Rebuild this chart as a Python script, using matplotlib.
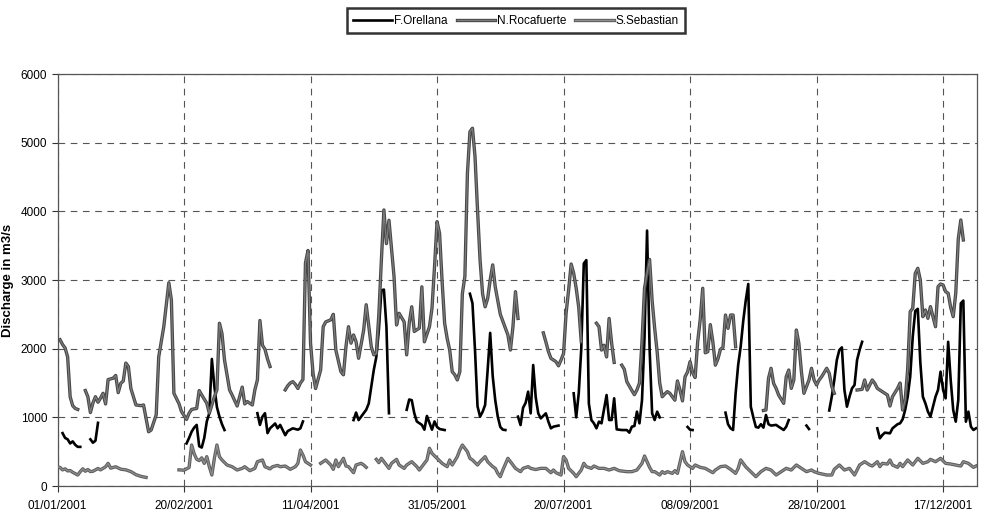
import numpy as np
import matplotlib
matplotlib.use("Agg")
import matplotlib.pyplot as plt
import matplotlib.dates as mdates
import matplotlib.patheffects as pe
from datetime import datetime

plt.rcParams['font.family'] = ['Liberation Sans', 'DejaVu Sans']

nan = np.nan

# day of year 2001 (0 = 01/01/2001), discharge in m3/s; nan = missing data
orellana_day = [2, 3, 4, 5, 6, 7, 8, 9, 11,
                13, 14, 15, 16, 30,
                51, 52, 53, 54, 55, 56, 57, 58, 59, 60, 61, 62, 63, 64, 65, 66, 72,
                79, 80, 81, 82, 83, 84, 86, 87, 88, 90, 91, 93, 95, 96, 97, 105,
                117, 118, 119, 121, 122, 123, 124, 125, 126, 127, 128, 129, 130, 131, 134,
                138, 139, 140, 141, 142, 144, 145, 146, 147, 148, 149, 150, 151, 153, 158,
                163, 164, 165, 166, 167, 168, 169, 170, 171, 172, 173, 174, 175, 176, 177, 179.5,
                182, 183, 184, 185, 186, 187, 188, 189, 190, 191, 193, 194, 195, 196, 198, 201,
                204, 205, 206, 207, 208, 209, 210, 211, 212, 213, 214, 215,
                217, 218, 219, 220, 221, 223,
                225, 226, 227, 228, 229, 230, 231, 232, 233, 234, 235, 236, 237, 238, 244,
                249, 250, 251, 257,
                264, 265, 266, 267, 268, 269, 270, 271, 272, 273, 274, 275, 276, 277, 278,
                279, 280, 281, 282, 284, 285, 287, 288, 289, 292,
                296, 297, 300,
                305, 306, 307, 308, 309, 310, 311, 312, 313, 314, 315, 316, 317, 318, 321,
                324, 325, 326, 327, 329, 330,
                332, 333, 334, 335, 336, 337, 338, 339, 340, 341,
                342, 343, 344, 345, 346, 347, 348, 349, 350, 351,
                352, 353, 354, 355, 356, 357, 358, 359, 360, 361,
                362, 363]
orellana_q = [770, 700, 680, 620, 650, 600, 570, 570, nan,
              680, 630, 660, 920, nan,
              620, 700, 790, 850, 890, 580, 560, 700, 940, 1060, 1850, 1450, 1150, 1010, 900, 815, nan,
              1060, 890, 1010, 1060, 770, 840, 910, 840, 890, 740, 800, 840, 820, 840, 940, nan,
              960, 1070, 960, 1060, 1110, 1200, 1450, 1690, 1880, 2270, 2850, 2860, 2320, 1060, nan,
              1110, 1260, 1250, 1060, 940, 890, 820, 1020, 920, 820, 940, 860, 830, 815, nan,
              2800, 2660, 1980, 1160, 1010, 1080, 1180, 1690, 2230, 1600, 1250, 1010, 860, 820, 815, nan,
              1010, 888, 1140, 1210, 1374, 1058, 1762, 1290, 1058, 985, 1058, 937, 840, 864, 880, nan,
              1350, 1000, 1350, 2000, 3240, 3290, 1200, 960, 913, 840, 937, 913,
              1325, 961, 961, 1277, 825, 815,
              815, 777, 864, 874, 1083, 913, 1250, 2175, 3720, 2000, 1058, 961, 1083, 1000, nan,
              860, 820, 815, nan,
              1068, 900, 840, 816, 1350, 1760, 2030, 2400, 2700, 2942, 1155, 1000, 860, 850, 900,
              850, 1034, 900, 880, 890, 864, 816, 864, 961, nan,
              880, 830, nan,
              1100, 1300, 1544, 1835, 1981, 2019, 1400, 1155, 1300, 1422, 1471, 1835, 1981, 2100, nan,
              840, 694, 743, 777, 767, 840,
              900, 913, 971, 1107, 1300, 1592, 2175, 2550, 2580, 1800,
              1300, 1204, 1083, 1010, 1155, 1300, 1400, 1665, 1400, 1277,
              2100, 1544, 1107, 937, 1252, 2660, 2700, 937, 1083, 864,
              816, 840]

rocafuerte_day = [1, 2, 3, 4, 5, 6, 7, 8, 9.5,
                  11, 12, 13, 14, 15, 16, 17, 18, 19, 20,
                  22, 23, 24, 25, 26, 27, 28, 29, 31, 33, 34,
                  36, 37, 39, 40, 42, 44, 45, 46, 48, 49,
                  51, 52, 53, 55, 56, 57, 59, 60, 62, 63, 64, 65, 66,
                  68, 69, 71, 72, 73, 74, 75, 77, 78, 79, 80, 81, 82, 83, 84, 87,
                  90, 91, 92, 93, 94, 95, 96, 97, 98, 99, 100, 101, 102,
                  104, 105, 106, 108, 109, 110, 112, 113, 114, 115, 116, 117, 118, 119,
                  121, 122, 124, 125, 126, 127, 128, 129, 130, 131, 133, 134, 135,
                  137, 138, 139, 140, 141, 143, 144, 145,
                  147, 148, 149, 150, 151, 152, 153, 154, 155, 156, 157, 158, 159, 160,
                  161, 162, 163, 164, 165, 166, 167, 168, 169, 170, 171, 172, 173, 174,
                  175, 176, 177, 178, 179, 180, 181, 182, 187,
                  192, 193, 194, 195, 197, 198, 199, 200, 201, 202, 203, 204, 205, 206, 207, 210,
                  213, 214, 215, 216, 217, 218, 219, 220, 221.5,
                  223, 224, 225, 227, 228, 229, 230, 231, 232, 233, 234, 235, 236, 237, 238,
                  239, 240, 241, 242, 243, 244, 245, 246, 247, 248, 249, 250, 251, 252, 253,
                  254, 255, 256, 257, 258, 259, 260, 261, 262, 263, 264, 265, 266, 267, 268, 273,
                  279, 280, 281, 282, 283, 284, 285, 287, 288, 289, 290, 291, 292, 293, 294, 295,
                  297, 298, 299, 300, 301, 302, 304, 305, 306, 307, 311,
                  316, 318, 319, 320, 322, 323, 324, 326, 328, 329, 330,
                  332, 333, 334, 335, 336, 337, 338, 339, 340, 341, 342, 343, 344, 345,
                  346, 347, 348, 349, 350, 351, 352, 353, 354, 355, 356, 357, 358]
rocafuerte_q = [2130, 2060, 2010, 1880, 1300, 1170, 1130, 1115, nan,
                1390, 1300, 1070, 1210, 1300, 1220, 1280, 1350, 1195, 1550,
                1570, 1610, 1360, 1495, 1530, 1790, 1740, 1420, 1180, 1170, 1180,
                790, 815, 1035, 1880, 2320, 2960, 2710, 1350, 1200, 1085,
                970, 1060, 1115, 1130, 1390, 1325, 1205, 1060, 1300, 1400, 2370, 2220, 1835,
                1400, 1325, 1165, 1300, 1440, 1195, 1230, 1180, 1400, 1545, 2410, 2050, 1990, 1850, 1740, nan,
                1400, 1460, 1500, 1520, 1480, 1420, 1500, 1550, 3250, 3430, 2080, 1640, 1420,
                1690, 2320, 2390, 2420, 2500, 1980, 1665, 1620, 2030, 2320, 2080, 2200, 2100, 1860,
                2270, 2640, 2030, 1910, 1930, 2500, 3290, 4020, 3530, 3870, 3050, 2345, 2515,
                2390, 1910, 2370, 2610, 2250, 2300, 2900, 2100,
                2320, 2590, 3190, 3850, 3680, 2980, 2370, 2150, 1980, 1665, 1620, 1545, 1665, 2800,
                3050, 4550, 5160, 5210, 4800, 4020, 3290, 2800, 2610, 2730, 3000, 3220, 2900, 2700,
                2500, 2400, 2300, 2200, 1980, 2320, 2830, 2440, nan,
                2230, 2100, 1960, 1860, 1810, 1750, 1835, 1930, 2515, 2854, 3233, 3097, 2879, 2600, 2100, nan,
                2370, 2320, 1980, 2050, 1880, 2440, 2080, 1800, nan,
                1760, 1700, 1520, 1390, 1330, 1400, 1500, 2100, 2880, 3100, 3300, 2700, 2300, 1950, 1500,
                1300, 1340, 1374, 1350, 1300, 1250, 1530, 1400, 1240, 1590, 1660, 1811, 1650, 1580, 2100,
                2420, 2879, 1940, 1956, 2350, 2100, 1760, 1850, 1990, 2019, 2490, 2296, 2490, 2490, 2029, nan,
                1100, 1107, 1568, 1714, 1495, 1422, 1325, 1204, 1592, 1689, 1422, 1544, 2272, 2078, 1665, 1350,
                1544, 1714, 1544, 1471, 1544, 1592, 1714, 1641, 1450, 1350, nan,
                1398, 1408, 1544, 1398, 1544, 1495, 1422, 1374, 1325, 1165, 1301,
                1422, 1500, 1107, 1252, 1700, 2540, 2587, 3097, 3170, 3000, 2466, 2563, 2442, 2612,
                2466, 2320, 2903, 2942, 2927, 2830, 2806, 2600, 2466, 2806, 3600, 3874, 3583]

sebastian_day = [0, 1, 2, 3, 4, 5, 6, 8, 9, 10, 11, 12, 13, 14, 16, 17, 19, 20, 21,
                 23, 25, 27, 29, 31, 33, 35, 42,
                 48, 50, 52, 53, 54, 55, 56, 57, 58, 59, 60, 61, 62, 63, 64, 65,
                 67, 69, 71, 73, 74, 76, 78, 79, 81, 82, 84, 85, 87, 88, 90, 92, 94, 95,
                 96, 97, 98, 99, 100, 102,
                 104, 105, 106, 108, 109, 110, 111, 113, 114, 115, 117, 118, 120, 121, 122, 124,
                 126, 127, 128, 130, 131, 132, 134, 135, 137, 138,
                 140, 142, 143, 145, 146, 147, 148, 150, 152, 154,
                 155, 156, 158, 159, 160, 162, 163, 164, 166, 167,
                 169, 170, 172, 173, 174, 175, 176, 178, 180, 181,
                 183, 184, 186, 187, 189, 191, 193, 195, 196, 197,
                 199, 200, 201, 202, 204, 205, 207, 208, 209, 211,
                 212, 214, 216, 218, 220, 222, 225, 227, 229, 231,
                 232, 234, 235, 236, 238, 239, 240, 241, 243, 244,
                 245, 247, 248, 249, 251, 252, 254, 256, 259, 260,
                 262, 264, 266, 268, 269, 270, 272, 274, 276, 278,
                 280, 282, 284, 286, 288, 290, 292, 294, 296, 298,
                 299, 301, 304, 306, 307, 309, 311, 313, 315, 317,
                 319, 321, 322, 324, 325, 326, 328, 329, 330, 332,
                 333, 334, 336, 338, 339, 340, 342, 344, 345, 347,
                 349, 351, 353, 355, 357, 358, 360, 362, 363]
sebastian_q = [280, 270, 235, 250, 220, 225, 200, 160, 210, 250, 215, 240, 210, 215, 255, 235, 280, 330, 260,
               280, 245, 235, 210, 165, 140, 125, nan,
               235, 230, 270, 597, 470, 390, 370, 410, 330, 427, 281, 160, 403, 597, 427, 379,
               306, 281, 233, 257, 281, 223, 257, 354, 379, 281, 250, 281, 300, 281, 291, 243, 281, 330,
               524, 451, 354, 330, 306, nan,
               330, 354, 379, 306, 243, 379, 282, 403, 291, 282, 194, 306, 330, 306, 272, nan,
               388, 340, 403, 306, 257, 330, 388, 306, 257, 306,
               354, 282, 233, 330, 379, 549, 476, 403, 330, 282,
               379, 306, 427, 524, 597, 500, 403, 379, 306, 354,
               427, 354, 282, 257, 184, 136, 233, 403, 306, 257,
               209, 257, 282, 257, 240, 257, 257, 194, 233, 194,
               160, 427, 379, 257, 184, 136, 233, 330, 282, 257,
               291, 257, 257, 233, 257, 223, 209, 209, 233, 330,
               437, 272, 209, 209, 160, 209, 184, 209, 184, 223,
               184, 500, 354, 306, 257, 306, 272, 257, 194, 233,
               282, 291, 243, 184, 257, 380, 280, 209, 136, 209,
               257, 233, 160, 209, 257, 233, 306, 257, 209, 233,
               209, 184, 160, 160, 243, 306, 233, 257, 160, 306,
               354, 306, 291, 354, 282, 330, 320, 379, 306, 272,
               330, 282, 379, 306, 354, 403, 330, 354, 388, 354,
               403, 330, 320, 306, 291, 354, 330, 272, 291]

tick_days = [0, 50, 100, 150, 200, 250, 300, 350]

start = mdates.date2num(datetime(2001, 1, 1))

fig = plt.figure(figsize=(9.83, 5.15), dpi=100)
ax = fig.add_axes([0.0585, 0.0563, 0.9354, 0.8])

ax.plot(start + np.array(orellana_day), orellana_q, color='black', lw=1.9,
        label='F.Orellana', zorder=3)
ax.plot(start + np.array(rocafuerte_day), rocafuerte_q, color='#7c7c7c', lw=0.9,
        label='N.Rocafuerte', zorder=4,
        path_effects=[pe.Stroke(linewidth=2.4, foreground='#474747'), pe.Normal()])
ax.plot(start + np.array(sebastian_day), sebastian_q, color='#8e8e8e', lw=0.9,
        label='S.Sebastian', zorder=5,
        path_effects=[pe.Stroke(linewidth=2.4, foreground='#5e5e5e'), pe.Normal()])

ax.set_xlim(start, start + 363.4)
ax.set_ylim(0, 6000)
ax.set_yticks(range(0, 6001, 1000))
ax.set_xticks([start + d for d in tick_days])
ax.xaxis.set_major_formatter(mdates.DateFormatter('%d/%m/%Y'))

ax.grid(True, color='#555555', lw=0.8, linestyle=(0, (6, 5)))
ax.set_axisbelow(True)
for s in ax.spines.values():
    s.set_color('#555555')
    s.set_linewidth(0.9)
ax.tick_params(axis='both', labelsize=8.5, color='#333333', length=4, width=0.8)
ax.tick_params(axis='x', pad=6)
ax.set_ylabel('Discharge in m3/s', fontsize=9.5, fontweight='bold')
ax.yaxis.set_label_coords(-0.047, 0.5)

leg = fig.legend(loc='upper center', bbox_to_anchor=(0.525, 0.995), ncol=3,
                 fontsize=8.5, frameon=True, fancybox=False, edgecolor='black',
                 handlelength=3.3, handletextpad=0.1, columnspacing=0.8,
                 borderpad=0.55)
leg.get_frame().set_linewidth(1.8)

fig.savefig('out.png', dpi=100)
